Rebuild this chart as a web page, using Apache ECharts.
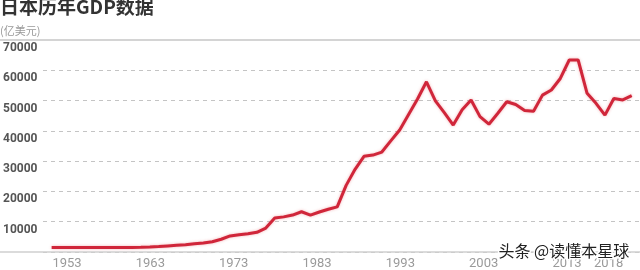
<!DOCTYPE html>
<html><head><meta charset="utf-8">
<script src="https://cdn.jsdelivr.net/npm/echarts@6/dist/echarts.min.js"></script>
<style>html,body{margin:0;padding:0;background:#fff}#c{width:640px;height:270px}</style>
</head><body><div id="c"></div>
<script>
const years = [1953,1954,1955,1956,1957,1958,1959,1960,1961,1962,1963,1964,1965,1966,1967,1968,1969,1970,1971,1972,1973,1974,1975,1976,1977,1978,1979,1980,1981,1982,1983,1984,1985,1986,1987,1988,1989,1990,1991,1992,1993,1994,1995,1996,1997,1998,1999,2000,2001,2002,2003,2004,2005,2006,2007,2008,2009,2010,2011,2012,2013,2014,2015,2016,2017,2018];
const gdp = [1500,1500,1500,1500,1500,1500,1500,1500,1500,1500,1550,1650,1800,2000,2200,2400,2700,3000,3400,4200,5300,5700,6000,6500,7900,11200,11600,12200,13300,12200,13200,14100,14900,22000,27300,31600,32000,33000,36700,40300,45400,50500,56200,49900,46000,41900,47000,50200,44700,42200,45800,49600,48700,46700,46500,51800,53500,57300,63400,63400,52400,49100,45200,50700,50200,51600];
const xTickLabels = [1953,1963,1973,1983,1993,2003,2013,2018];
const yTicks = [0,10000,20000,30000,40000,50000,60000,70000];
const titleText = '日本历年GDP数据';
const unitText = '(亿美元)';
const watermark = '头条 @读懂本星球';

const chart = echarts.init(document.getElementById('c'), null, {renderer:'canvas'});
chart.setOption({
  animation:false,
  backgroundColor:'#fff',
  title:[{text:titleText,left:0,top:-3,padding:0,textStyle:{fontSize:19,fontWeight:'bold',color:'#333',fontFamily:'Noto Sans CJK SC'}},
         {text:unitText,left:0,top:25,padding:0,textStyle:{fontSize:11,fontWeight:'normal',color:'#999',fontFamily:'Noto Sans CJK SC'}}],
  grid:{left:43,right:0,top:40,bottom:18,containLabel:false},
  xAxis:[
    {type:'value',min:1952.03,max:2018.93,position:'bottom',
     axisLine:{show:false},axisTick:{show:false},axisLabel:{show:false},splitLine:{show:false}},
    {type:'value',min:1950.12,max:2021.76,position:'bottom',
     axisLine:{show:false},axisTick:{show:false},splitLine:{show:false},
     axisLabel:{show:true,customValues:xTickLabels,color:'#9a9a9a',fontSize:13,margin:5,fontFamily:'Roboto',formatter:v=>String(v)}}
  ],
  yAxis:{type:'value',min:yTicks[0],max:yTicks[yTicks.length-1],interval:10000,
    axisLine:{show:false},axisTick:{show:false},
    axisLabel:{show:true,showMinLabel:false,align:'left',verticalAlign:'top',margin:40,padding:[2,0,0,0],
      color:'#555',fontSize:12,fontWeight:'bold',fontFamily:'Roboto',formatter:v=>String(v)},
    splitLine:{show:true,lineStyle:{color:'#c4c4c4',type:[4,4],width:1}}},
  graphic:[
    {type:'line',shape:{x1:0,y1:40,x2:640,y2:40},style:{stroke:'#d4d4d4',lineWidth:2},z:5},
    {type:'line',shape:{x1:0,y1:252,x2:640,y2:252},style:{stroke:'#cfcfcf',lineWidth:1.5},z:5},
    {type:'text',left:497,top:241,z:100,style:{text:watermark,fontSize:16,fill:'#222',stroke:'#fff',lineWidth:3,fontFamily:'Noto Sans CJK SC'}}
  ],
  series:[{type:'line',xAxisIndex:0,data:years.map((y,i)=>[y,gdp[i]]),symbol:'none',
    lineStyle:{color:'#d0263a',width:3,shadowColor:'rgba(220,40,50,0.35)',shadowBlur:3},z:3}]
});
</script></body></html>
